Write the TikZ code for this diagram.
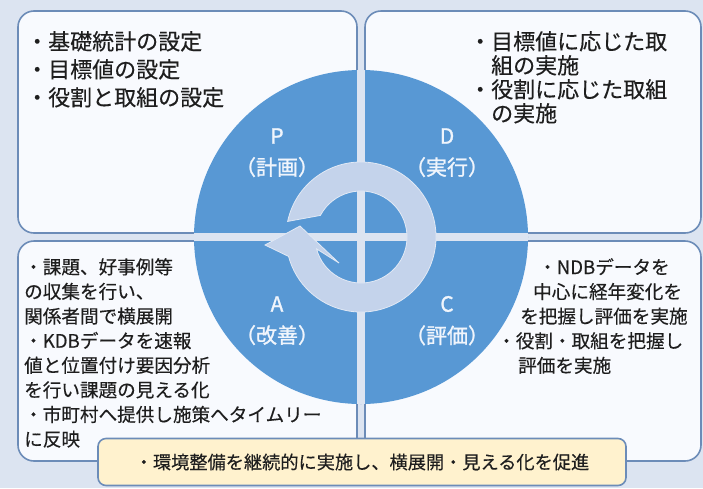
\documentclass[tikz,border=0pt]{standalone}
\usepackage{fontspec}
\setmainfont{Noto Sans CJK JP}[FakeBold=0.3]
\newfontfamily\lblfont{Noto Sans CJK JP}[FakeBold=1.2]
\usetikzlibrary{positioning,calc}
\definecolor{pagebg}{RGB}{220,228,241}
\definecolor{boxfill}{RGB}{248,250,254}
\definecolor{boxline}{RGB}{108,140,184}
\definecolor{wheel}{RGB}{88,152,212}
\definecolor{ringfill}{RGB}{196,211,235}
\definecolor{notefill}{RGB}{255,242,206}
\definecolor{lbltext}{RGB}{240,245,252}
\definecolor{inktext}{RGB}{30,30,30}

\begin{document}
\begin{tikzpicture}[
    x=1pt, y=-1pt,
    node distance=13pt,
    quad/.style={rounded corners=16pt, line width=1.6pt, draw=boxline, fill=boxfill},
    lbl/.style={text=lbltext, inner sep=0pt, font=\lblfont\fontsize{21}{24}\selectfont},
    bignote/.style={align=left, inner sep=0pt, anchor=north west, text=inktext, font=\fontsize{22}{28}\selectfont},
    smallnote/.style={align=left, inner sep=0pt, anchor=north west, text=inktext, font=\fontsize{18.6}{24.6}\selectfont},
    banner/.style={rounded corners=8pt, line width=1.6pt, draw=boxline, fill=notefill, text=inktext, minimum width=528pt, minimum height=47pt, font=\fontsize{18.2}{22}\selectfont}
  ]
  \fill[pagebg] (0,0) rectangle (703,488);
  \useasboundingbox (0,0) rectangle (703,488);

  \draw[quad] (18,11) rectangle (357,233);
  \draw[quad] (365,11) rectangle (701,233);
  \draw[quad] (18,241) rectangle (357,461);
  \draw[quad] (365,241) rectangle (701,461);

  \coordinate (c) at (361,237);
  \fill[wheel] (c) circle[radius=167];
  \begin{scope}
    \clip (c) circle[radius=167];
    \fill[pagebg] (357,60) rectangle (365,415);
    \fill[pagebg] (180,233) rectangle (545,241);
  \end{scope}

  \filldraw[fill=ringfill, draw=white!50!ringfill, line width=0.8pt]
    ($(c)+(192:75)$) arc[start angle=192, end angle=525, radius=75]
    -- (265,245) -- (300,226) -- (339,263)
    -- ($(c)+(165:46)$) arc[start angle=165, end angle=-152, radius=46] -- cycle;

  \node[lbl] (p) at (277,136) {P};
  \node[lbl, below=of p] (pjp) {（計画）};
  \node[lbl] (d) at (447,136) {D};
  \node[lbl, below=of d] (djp) {（実行）};
  \node[lbl] (a) at (277,304) {A};
  \node[lbl, below=of a] (ajp) {（改善）};
  \node[lbl] (cc) at (447,304) {C};
  \node[lbl, below=of cc] (cjp) {（評価）};

  \node[bignote] (plantxt) at (26,31) {・基礎統計の設定\\・目標値の設定\\・役割と取組の設定};
  \node[bignote, font=\fontsize{22}{24}\selectfont] (dotxt) at (469,31)
    {・目標値に応じた取\\\hspace*{1em}組の実施\\・役割に応じた取組\\\hspace*{1em}の実施};
  \node[smallnote] (acttxt) at (24,258)
    {・課題、好事例等\\の収集を行い、\\関係者間で横展開\\・KDBデータを速報\\値と位置付け要因分析\\を行い課題の見える化\\・市町村へ提供し施策へタイムリー\\に反映};
  \node[smallnote] (checktxt) at (497,258)
    {\hspace*{41pt}・NDBデータを\\\hspace*{36pt}中心に経年変化を\\\hspace*{23pt}を把握し評価を実施\\・役割・取組を把握し\\\hspace*{21pt}評価を実施};

  \node[banner] (goal) at (362,462) {・環境整備を継続的に実施し、横展開・見える化を促進};
\end{tikzpicture}
\end{document}
